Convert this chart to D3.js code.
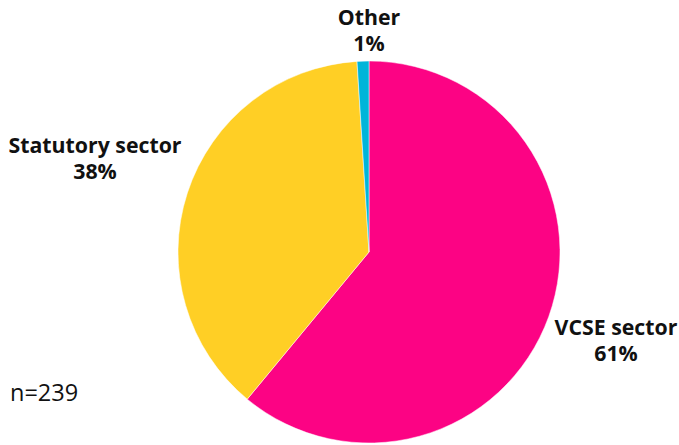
<!DOCTYPE html>
<html><head><meta charset="utf-8">
<script src="https://cdn.jsdelivr.net/npm/d3@7"></script>
<style>body{margin:0;background:#fff}svg{display:block}</style>
</head><body>
<svg id="c" width="679" height="445"></svg>
<script>
const categories = ["VCSE sector", "Statutory sector", "Other"];
const values = [61, 38, 1];
const labels = ["61%", "38%", "1%"];
const colors = ["#FC0384", "#FFCF25", "#00B5D9"];
const labelPos = [[616, 335], [95, 153], [369, 25]];
const note = "n=239";

const svg = d3.select("#c");
const cx = 369, cy = 252, r = 191;
const data = categories.map((c, i) => ({c, v: values[i], l: labels[i], col: colors[i], p: labelPos[i]}));
const pie = d3.pie().value(d => d.v).sort(null);
const arc = d3.arc().innerRadius(0).outerRadius(r);
const g = svg.append("g").attr("transform", `translate(${cx},${cy})`);
g.selectAll("path").data(pie(data)).join("path")
  .attr("d", arc).attr("fill", d => d.data.col)
  .attr("stroke", "#fff").attr("stroke-width", 0.5);

const t = svg.selectAll("text.lab").data(data).join("text")
  .attr("class", "lab")
  .attr("text-anchor", "middle")
  .attr("font-family", "'Open Sans', sans-serif")
  .attr("font-weight", 700).attr("font-size", 21.3).attr("fill", "#111");
t.append("tspan").attr("x", d => d.p[0]).attr("y", d => d.p[1]).text(d => d.c);
t.append("tspan").attr("x", d => d.p[0]).attr("y", d => d.p[1] + 26).text(d => d.l);

svg.append("text").attr("x", 10).attr("y", 401)
  .attr("font-family", "'Open Sans', sans-serif").attr("font-size", 23.5).attr("fill", "#111")
  .text(note);
</script>
</body></html>
